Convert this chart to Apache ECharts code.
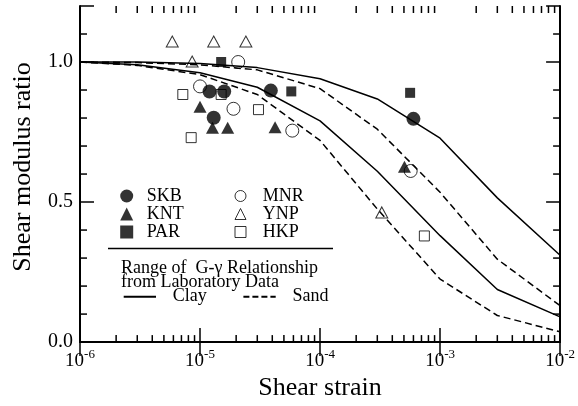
<!DOCTYPE html>
<html>
<head>
<meta charset="utf-8">
<script src="https://cdn.jsdelivr.net/npm/echarts@6/dist/echarts.min.js"></script>
<style>html,body{margin:0;padding:0;background:#fff}#c{width:578px;height:406px}</style>
</head>
<body>
<div id="c"></div>
<script>
// ---- data ----
const strainGrid = [1e-6, 3e-6, 1e-5, 3e-5, 1e-4, 3e-4, 1e-3, 3e-3, 1e-2];
const clayUpper = [1.0, 1.0, 0.995, 0.98, 0.94, 0.868, 0.728, 0.515, 0.31];
const clayLower = [1.0, 0.99, 0.962, 0.91, 0.79, 0.61, 0.38, 0.188, 0.09];
const sandUpper = [1.0, 0.998, 0.99, 0.972, 0.905, 0.76, 0.535, 0.296, 0.13];
const sandLower = [1.0, 0.988, 0.955, 0.884, 0.72, 0.475, 0.225, 0.095, 0.037];

const skb = [[1.20e-5, 0.895], [1.59e-5, 0.895], [3.89e-5, 0.898], [1.30e-5, 0.801], [6.0e-4, 0.797]];
const knt = [[1.0e-5, 0.840], [1.27e-5, 0.765], [1.70e-5, 0.765], [4.22e-5, 0.767], [5.05e-4, 0.626]];
const par = [[1.50e-5, 1.0], [5.76e-5, 0.895], [5.63e-4, 0.89]];
const mnr = [[2.08e-5, 1.0], [1.0e-5, 0.913], [1.90e-5, 0.833], [5.87e-5, 0.755], [5.69e-4, 0.611]];
const ynp = [[5.87e-6, 1.073], [1.30e-5, 1.073], [2.41e-5, 1.073], [8.6e-6, 1.002], [3.27e-4, 0.463]];
const hkp = [[7.19e-6, 0.884], [1.50e-5, 0.884], [3.07e-5, 0.830], [8.44e-6, 0.730], [7.40e-4, 0.379]];

const xMinorTicks = [];
[1e-6, 1e-5, 1e-4, 1e-3].forEach(d => { for (let k = 2; k <= 9; k++) xMinorTicks.push(+(k * d).toPrecision(3)); });
const yMinorTicks = [0.1, 0.2, 0.3, 0.4, 0.6, 0.7, 0.8, 0.9, 1.1];
const yTickLabels = ['0.0', '0.5', '1.0'];

// ---- chart ----
const FONT = 'Liberation Serif';
const chart = echarts.init(document.getElementById('c'), null, {renderer: 'canvas'});
const pairs = arr => strainGrid.map((s, i) => [s, arr[i]]);
const lineBase = (name, arr, dashed) => ({
  type: 'line', name, data: pairs(arr), symbol: 'none', silent: true,
  lineStyle: {color: '#000', width: 1.5, type: dashed ? [7, 4] : 'solid'},
  itemStyle: {color: '#000'}, z: 2
});
const scat = (name, data, symbol, size, filled) => ({
  type: 'scatter', name, data, symbol, symbolSize: size,
  itemStyle: filled ? {color: '#000'} : {color: 'rgba(0,0,0,0)', borderColor: '#000', borderWidth: 1},
  z: filled ? 4 : 3
});

const axisCommonX = {
  type: 'log', logBase: 10, min: 1e-6, max: 1e-2,
  axisLine: {lineStyle: {color: '#000', width: 2}},
  axisTick: {inside: true, length: 14, lineStyle: {color: '#000', width: 1.5}},
  splitLine: {show: false}, minorTick: {show: false}
};
const axisCommonY = {
  type: 'value', min: 0, max: 1.2, interval: 0.5,
  axisLine: {lineStyle: {color: '#000', width: 2}},
  axisTick: {inside: true, length: 14, lineStyle: {color: '#000', width: 1.5}},
  splitLine: {show: false}
};
const legText = {fontFamily: FONT, fontSize: 18, color: '#000', lineHeight: 18};

chart.setOption({
  animation: false,
  backgroundColor: '#fff',
  grid: {left: 80, right: 16, top: 6, bottom: 62, containLabel: false},
  xAxis: [
    Object.assign({}, axisCommonX, {
      position: 'bottom',
      name: 'Shear strain', nameLocation: 'middle', nameGap: 32,
      nameTextStyle: {fontFamily: FONT, fontSize: 26, color: '#000'},
      axisLabel: {
        margin: 6,
        formatter: v => '{b|10}{s|' + Math.round(Math.log10(v)) + '}',
        rich: {
          b: {fontFamily: FONT, fontSize: 19, color: '#000', lineHeight: 22, verticalAlign: 'bottom'},
          s: {fontFamily: FONT, fontSize: 13, color: '#000', lineHeight: 13, verticalAlign: 'top'}
        }
      }
    }),
    Object.assign({}, axisCommonX, {position: 'top', axisLabel: {show: false}})
  ],
  yAxis: [
    Object.assign({}, axisCommonY, {
      position: 'left',
      name: 'Shear modulus ratio', nameLocation: 'middle', nameRotate: 90, nameGap: 44,
      nameTextStyle: {fontFamily: FONT, fontSize: 26, color: '#000', padding: [0, 0, 0, 14]},
      axisLabel: {
        margin: 7, fontFamily: FONT, fontSize: 20, color: '#000',
        formatter: v => { const t = v.toFixed(1); return yTickLabels.indexOf(t) >= 0 ? t : ''; }
      }
    }),
    Object.assign({}, axisCommonY, {position: 'right', axisLabel: {show: false}})
  ],
  legend: [
    {
      data: ['SKB', 'KNT', 'PAR'], orient: 'vertical', left: 120.2, top: 187, padding: 0,
      itemWidth: 13, itemHeight: 13, itemGap: 0, selectedMode: false,
      textStyle: Object.assign({padding: [0, 0, 0, 8.5]}, legText)
    },
    {
      data: ['MNR', 'YNP', 'HKP'], orient: 'vertical', left: 234.5, top: 187, padding: 0,
      itemWidth: 11, itemHeight: 11, itemGap: 0, selectedMode: false,
      itemStyle: {borderWidth: 1},
      textStyle: Object.assign({padding: [0, 0, 0, 11.8]}, legText)
    },
    {
      data: [{name: 'Clay'}, {name: 'Sand', lineStyle: {type: [6, 3]}}],
      orient: 'horizontal', left: 122.7, top: 287.7, padding: 0,
      itemWidth: 32.3, itemHeight: 14, itemGap: 35.7, selectedMode: false,
      itemStyle: {color: 'rgba(0,0,0,0)', borderWidth: 0, opacity: 0},
      textStyle: Object.assign({padding: [0, 0, 0, 11.7]}, legText)
    }
  ],
  graphic: [
    {type: 'line', shape: {x1: 108, y1: 248.5, x2: 333, y2: 248.5}, style: {stroke: '#000', lineWidth: 1.5}, silent: true},
    {type: 'text', left: 121, top: 259.5, silent: true,
     style: {text: 'Range of  G-\u03b3 Relationship\nfrom Laboratory Data', font: '18px "Liberation Serif"', fill: '#000', lineHeight: 14}}
  ],
  series: [
    lineBase('Clay', clayUpper, false),
    lineBase('Clay', clayLower, false),
    lineBase('Sand', sandUpper, true),
    lineBase('Sand', sandLower, true),
    scat('HKP', hkp, 'rect', 10, false),
    scat('MNR', mnr, 'circle', 13, false),
    scat('YNP', ynp, 'triangle', [12, 11], false),
    scat('SKB', skb, 'circle', 14, true),
    scat('KNT', knt, 'triangle', [13, 12], true),
    scat('PAR', par, 'rect', 10, true),
    {
      type: 'custom', name: 'xminor', silent: true, z: 5,
      data: xMinorTicks.map(v => [v, 0]),
      renderItem: (params, api) => {
        const p = api.coord([api.value(0), 0]);
        const cs = params.coordSys;
        return {type: 'group', children: [
          {type: 'line', shape: {x1: p[0], y1: cs.y + cs.height, x2: p[0], y2: cs.y + cs.height - 7}, style: {stroke: '#000', lineWidth: 1.5}},
          {type: 'line', shape: {x1: p[0], y1: cs.y, x2: p[0], y2: cs.y + 7}, style: {stroke: '#000', lineWidth: 1.5}}
        ]};
      }
    },
    {
      type: 'custom', name: 'yminor', silent: true, z: 5,
      data: yMinorTicks.map(v => [1e-6, v]),
      renderItem: (params, api) => {
        const p = api.coord([1e-6, api.value(1)]);
        const cs = params.coordSys;
        return {type: 'group', children: [
          {type: 'line', shape: {x1: cs.x, y1: p[1], x2: cs.x + 7, y2: p[1]}, style: {stroke: '#000', lineWidth: 1.5}},
          {type: 'line', shape: {x1: cs.x + cs.width, y1: p[1], x2: cs.x + cs.width - 7, y2: p[1]}, style: {stroke: '#000', lineWidth: 1.5}}
        ]};
      }
    }
  ]
});
</script>
</body>
</html>
